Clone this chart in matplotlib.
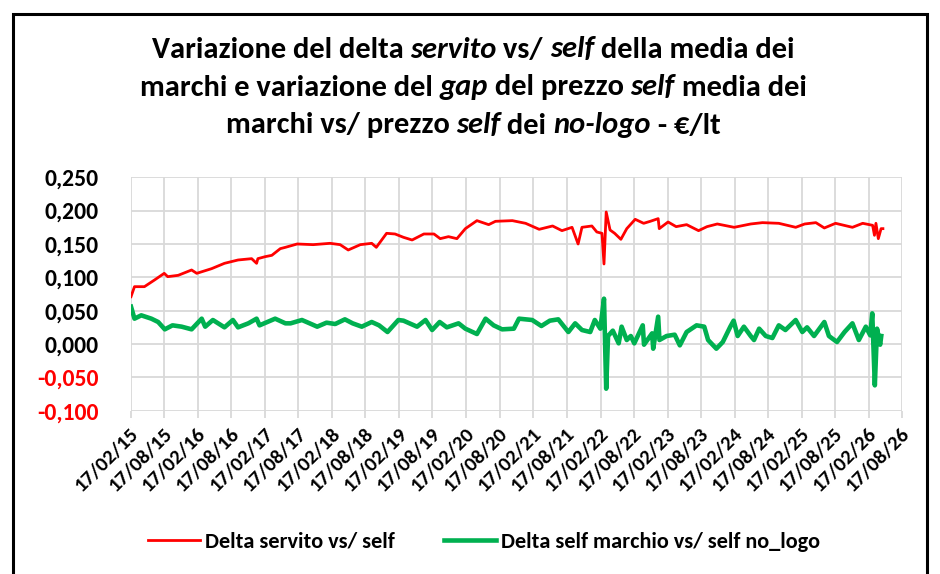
import numpy as np
import pandas as pd
import matplotlib
matplotlib.use("Agg")
import matplotlib.pyplot as plt
import matplotlib.dates as mdates
import matplotlib.transforms as mtrans
from matplotlib import font_manager
from matplotlib.patches import Rectangle
from matplotlib.ticker import FuncFormatter, FixedLocator
from matplotlib.lines import Line2D

# ---------------- data ----------------
red_dates = ["2015-02-17", "2015-03-08", "2015-05-01", "2015-06-25", "2015-08-17", "2015-09-05",
             "2015-11-01", "2016-01-13", "2016-02-10", "2016-05-01", "2016-07-10", "2016-09-22",
             "2016-12-05", "2017-01-01", "2017-01-08", "2017-02-17", "2017-03-25", "2017-05-10",
             "2017-06-07", "2017-08-10", "2017-11-05", "2018-02-05", "2018-04-01", "2018-05-15",
             "2018-07-20", "2018-09-20", "2018-10-15", "2018-12-10", "2019-01-25", "2019-03-12",
             "2019-04-28", "2019-07-01", "2019-08-25", "2019-09-28", "2019-11-12", "2019-12-28",
             "2020-02-12", "2020-04-15", "2020-06-18", "2020-07-25", "2020-10-25", "2021-01-05",
             "2021-03-20", "2021-06-01", "2021-07-22", "2021-09-15", "2021-10-18", "2021-11-08",
             "2022-01-01", "2022-01-28", "2022-02-25", "2022-03-08", "2022-03-20", "2022-04-10",
             "2022-05-05", "2022-06-08", "2022-07-10", "2022-08-25", "2022-10-10", "2022-11-15",
             "2022-12-28", "2023-01-03", "2023-02-20", "2023-04-05", "2023-06-01", "2023-08-05",
             "2023-09-20", "2023-11-15", "2024-02-15", "2024-05-15", "2024-07-18", "2024-10-15",
             "2025-01-15", "2025-03-05", "2025-05-05", "2025-06-20", "2025-08-20", "2025-11-20",
             "2026-01-15", "2026-03-10", "2026-03-20", "2026-03-28", "2026-04-10", "2026-04-25",
             "2026-05-05"]
red_values = [0.071, 0.086, 0.086, 0.096, 0.106, 0.101,
              0.103, 0.111, 0.106, 0.113, 0.121, 0.126,
              0.128, 0.121, 0.128, 0.131, 0.133, 0.143,
              0.145, 0.150, 0.149, 0.151, 0.149, 0.141,
              0.149, 0.151, 0.145, 0.166, 0.165, 0.160,
              0.156, 0.165, 0.165, 0.158, 0.161, 0.158,
              0.173, 0.185, 0.179, 0.184, 0.185, 0.181,
              0.172, 0.177, 0.170, 0.175, 0.150, 0.175,
              0.177, 0.168, 0.166, 0.120, 0.198, 0.171,
              0.166, 0.157, 0.173, 0.187, 0.181, 0.184,
              0.188, 0.173, 0.183, 0.176, 0.179, 0.170,
              0.176, 0.180, 0.175, 0.180, 0.182, 0.181,
              0.175, 0.180, 0.182, 0.174, 0.181, 0.175,
              0.181, 0.178, 0.163, 0.181, 0.158, 0.173,
              0.173]

green_dates = ["2015-02-17", "2015-03-08", "2015-04-14", "2015-06-08", "2015-07-15", "2015-08-20",
               "2015-10-01", "2015-11-20", "2016-01-13", "2016-03-08", "2016-03-27", "2016-05-08",
               "2016-07-10", "2016-08-25", "2016-09-22", "2016-11-17", "2017-01-01", "2017-01-17",
               "2017-04-12", "2017-06-07", "2017-07-05", "2017-09-05", "2017-10-17", "2017-11-27",
               "2018-01-17", "2018-03-05", "2018-04-27", "2018-06-08", "2018-07-28", "2018-09-20",
               "2018-10-30", "2018-12-15", "2019-02-12", "2019-03-12", "2019-05-25", "2019-07-10",
               "2019-08-15", "2019-09-25", "2019-11-03", "2020-01-06", "2020-02-12", "2020-04-15",
               "2020-06-01", "2020-07-15", "2020-08-30", "2020-11-02", "2020-11-30", "2021-02-10",
               "2021-04-01", "2021-05-17", "2021-07-02", "2021-08-26", "2021-10-02", "2021-11-08",
               "2021-12-23", "2022-01-17", "2022-02-16", "2022-03-08", "2022-03-20", "2022-03-30",
               "2022-04-25", "2022-05-27", "2022-06-12", "2022-07-10", "2022-08-01", "2022-08-20",
               "2022-10-05", "2022-10-12", "2022-11-25", "2022-12-01", "2022-12-28", "2023-01-04",
               "2023-02-12", "2023-03-28", "2023-04-25", "2023-06-01", "2023-07-25", "2023-09-05",
               "2023-09-26", "2023-11-10", "2023-12-15", "2024-01-25", "2024-02-12", "2024-03-05",
               "2024-04-08", "2024-05-15", "2024-06-02", "2024-06-30", "2024-08-05", "2024-09-10",
               "2024-10-15", "2024-11-20", "2025-01-15", "2025-02-20", "2025-03-18", "2025-04-25",
               "2025-06-20", "2025-07-15", "2025-08-28", "2025-10-08", "2025-11-20", "2025-12-25",
               "2026-02-01", "2026-02-25", "2026-03-08", "2026-03-22", "2026-04-03", "2026-04-20",
               "2026-04-26"]
green_values = [0.056, 0.038, 0.043, 0.038, 0.033, 0.022,
                0.028, 0.026, 0.022, 0.038, 0.026, 0.036,
                0.025, 0.036, 0.025, 0.031, 0.038, 0.028,
                0.038, 0.031, 0.031, 0.036, 0.031, 0.026,
                0.032, 0.030, 0.037, 0.031, 0.026, 0.033,
                0.028, 0.018, 0.036, 0.035, 0.026, 0.036,
                0.021, 0.033, 0.025, 0.031, 0.023, 0.015,
                0.038, 0.028, 0.022, 0.023, 0.038, 0.036,
                0.027, 0.035, 0.037, 0.018, 0.031, 0.021,
                0.018, 0.036, 0.023, 0.068, -0.067, 0.012,
                0.020, 0.001, 0.026, 0.006, 0.012, 0.001,
                0.028, -0.001, 0.016, -0.007, 0.041, 0.006,
                0.012, 0.014, -0.002, 0.018, 0.028, 0.026,
                0.006, -0.007, 0.003, 0.026, 0.035, 0.012,
                0.026, 0.012, 0.006, 0.023, 0.012, 0.009,
                0.028, 0.021, 0.036, 0.018, 0.025, 0.012,
                0.033, 0.012, 0.003, 0.018, 0.031, 0.006,
                0.026, 0.013, 0.046, -0.062, 0.023, -0.001,
                0.012]

tick_dates = ["2015-02-17", "2015-08-17", "2016-02-17", "2016-08-17", "2017-02-17", "2017-08-17",
              "2018-02-17", "2018-08-17", "2019-02-17", "2019-08-17", "2020-02-17", "2020-08-17",
              "2021-02-17", "2021-08-17", "2022-02-17", "2022-08-17", "2023-02-17", "2023-08-17",
              "2024-02-17", "2024-08-17", "2025-02-17", "2025-08-17", "2026-02-17", "2026-08-17"]
tick_labels = ["17/02/15", "17/08/15", "17/02/16", "17/08/16", "17/02/17", "17/08/17",
               "17/02/18", "17/08/18", "17/02/19", "17/08/19", "17/02/20", "17/08/20",
               "17/02/21", "17/08/21", "17/02/22", "17/08/22", "17/02/23", "17/08/23",
               "17/02/24", "17/08/24", "17/02/25", "17/08/25", "17/02/26", "17/08/26"]
y_ticks = [-0.100, -0.050, 0.000, 0.050, 0.100, 0.150, 0.200, 0.250]

series_names = ["Delta servito vs/ self", "Delta self marchio vs/ self no_logo"]

title_lines = [
    [("Variazione del delta ", False), ("servito", True), (" vs/ ", False), ("self", True),
     (" della media dei", False)],
    [("marchi e variazione del ", False), ("gap", True), (" del prezzo ", False), ("self", True),
     (" media dei", False)],
    [("marchi vs/ prezzo ", False), ("self", True), (" dei ", False), ("no-logo", True),
     (" - €/lt", False)],
]

# ---------------- font ----------------
avail = {f.name for f in font_manager.fontManager.ttflist}
FONT = "DejaVu Sans"
for cand in ["Carlito", "Lato", "Liberation Sans Narrow", "Open Sans"]:
    if cand in avail:
        FONT = cand
        break
plt.rcParams["font.family"] = [FONT, "DejaVu Sans"]
plt.rcParams["font.weight"] = "bold"

RED = "#ff0000"
GREEN = "#00b050"
GRID = "#d9d9d9"

fig = plt.figure(figsize=(9.4, 5.74), dpi=100)
W, H = 940, 574
PX = 72 / 100  # points per pixel
ax = fig.add_axes([131 / W, 1 - 410.7 / H, (902 - 131) / W, (410.7 - 177.3) / H])

rd = pd.to_datetime(red_dates)
gd = pd.to_datetime(green_dates)
ax.plot(gd, green_values, color=GREEN, lw=3.3, solid_joinstyle="round", zorder=3)
ax.plot(rd, red_values, color=RED, lw=2.0, solid_joinstyle="round", zorder=4)

td = pd.to_datetime(tick_dates)
ax.set_xlim(td[0], td[-1])
ax.set_ylim(-0.100, 0.250)
ax.xaxis.set_major_locator(FixedLocator(mdates.date2num(td)))
ax.set_xticklabels(tick_labels)
ax.set_yticks(y_ticks)
ax.yaxis.set_major_formatter(FuncFormatter(lambda v, p: f"{v:.3f}".replace(".", ",")))

for s in ax.spines.values():
    s.set_visible(False)
ax.grid(True, color=GRID, lw=1.3)
ax.set_axisbelow(True)
ax.tick_params(axis="x", length=5, color=GRID, width=1.3, pad=2)
ax.tick_params(axis="y", length=0, pad=(131 - 99) * PX)

for lab, v in zip(ax.get_yticklabels(), y_ticks):
    lab.set_fontsize(17)
    lab.set_fontweight("bold")
    lab.set_color(RED if v < 0 else "black")

offset = mtrans.ScaledTranslation(5 / 100, -10 / 100, fig.dpi_scale_trans)
for lab in ax.get_xticklabels():
    lab.set_fontsize(15)
    lab.set_fontweight("bold")
    lab.set_rotation(45)
    lab.set_ha("right")
    lab.set_va("center")
    lab.set_rotation_mode("anchor")
    lab.set_transform(lab.get_transform() + offset)

# ---------------- title with mixed styles ----------------
title_fs = 22
renderer = fig.canvas.get_renderer()


def seg_width(s, italic):
    st = "italic" if italic else "normal"
    t1 = fig.text(0, 0, "|" + s + "|", fontsize=title_fs, fontweight="bold", fontstyle=st)
    t2 = fig.text(0, 0, "||", fontsize=title_fs, fontweight="bold", fontstyle=st)
    w = t1.get_window_extent(renderer).width - t2.get_window_extent(renderer).width
    t1.remove()
    t2.remove()
    return w


line_y = [47, 85, 123]
cx = 473
for segs, ypix in zip(title_lines, line_y):
    widths = [seg_width(s, it) for s, it in segs]
    x = cx - sum(widths) / 2
    for (s, it), w in zip(segs, widths):
        fig.text(x / W, 1 - ypix / H, s, fontsize=title_fs, fontweight="bold",
                 fontstyle="italic" if it else "normal", ha="left", va="center_baseline")
        x += w

# ---------------- legend ----------------
leg_fs = 16
leg_px = leg_fs / PX
handles = [Line2D([], [], color=RED, lw=2.0), Line2D([], [], color=GREEN, lw=3.3)]
fig.legend(handles, series_names, loc="center", bbox_to_anchor=(484 / W, 1 - 541.7 / H),
           ncol=2, frameon=False, prop={"size": leg_fs, "weight": "bold"},
           handlelength=52 / leg_px, handletextpad=5 / leg_px, columnspacing=50 / leg_px,
           borderpad=0, borderaxespad=0)

# ---------------- outer border ----------------
fig.patches.append(Rectangle((13 / W, -0.05), (927 - 13) / W, (1 - 14 / H) + 0.05,
                             transform=fig.transFigure, fill=False, edgecolor="black",
                             lw=2.2, clip_on=False))

fig.savefig("out.png", dpi=100, facecolor="white")
